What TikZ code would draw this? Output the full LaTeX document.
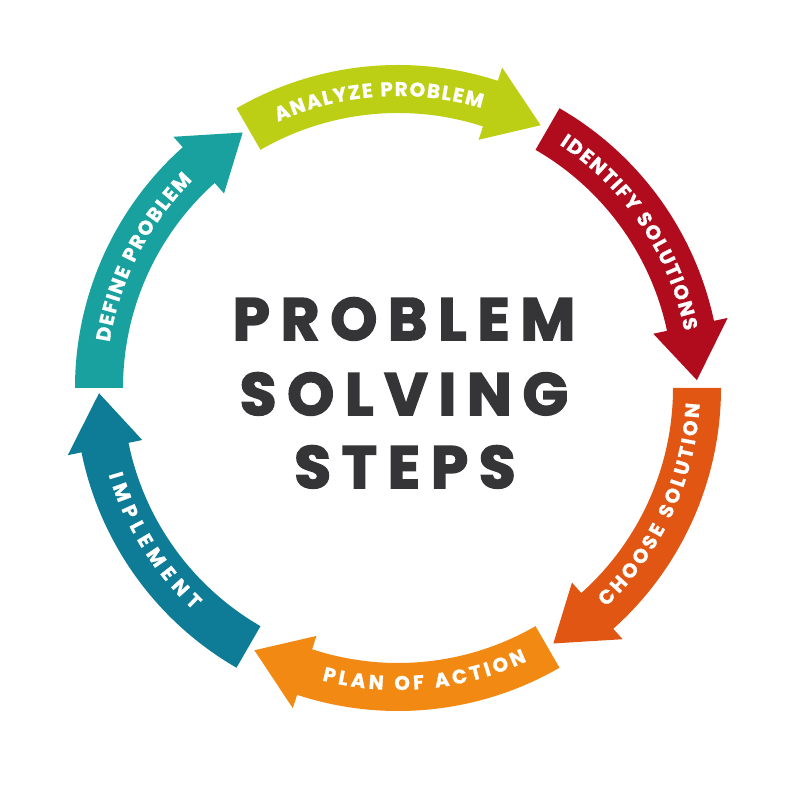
\documentclass[tikz,border=0pt]{standalone}
\usepackage{fontspec}
\usetikzlibrary{decorations.text}
\newfontfamily\titlefont{Poppins}[LetterSpace=18,BoldFeatures={FakeBold=2.6}]
\newfontfamily\lblfont{Poppins}[BoldFeatures={FakeBold=1}]
\definecolor{cdefine}{RGB}{24,161,158}
\definecolor{canalyze}{RGB}{189,207,20}
\definecolor{cidentify}{RGB}{176,12,30}
\definecolor{cchoose}{RGB}{224,86,18}
\definecolor{cplan}{RGB}{242,137,18}
\definecolor{cimplement}{RGB}{14,124,150}
\definecolor{ctitle}{RGB}{53,53,55}
\def\lblstyle#1{\lblfont\bfseries\fontsize{11.3pt}{13pt}\selectfont\kern#1}
% radii of the ring and of the heads
\def\Ro{323}
\def\Ri{275}
\def\Rm{299}
\def\Rho{337}
\def\Rhi{261}
\def\stepseg#1#2#3{%
  \fill[#3] (#1:\Ro) arc[start angle=#1, end angle=#2+10.5, radius=\Ro]
    -- ({#2+10.5}:\Rho) -- (#2:\Rm) -- ({#2+10.5}:\Rhi) -- ({#2+10.5}:\Ri)
    arc[start angle=#2+10.5, end angle=#1, radius=\Ri] -- cycle;
}
\tikzset{
  title/.style={font=\titlefont\bfseries\fontsize{34pt}{40pt}\selectfont,
    text=ctitle, anchor=base, inner sep=0pt},
  lblsp/.initial=0.9pt,
  steplbl/.style={decorate, decoration={text along path,
    text/.expanded={|\noexpand\lblstyle{\pgfkeysvalueof{/tikz/lblsp}}|#1},
    text align=center, text color=white}}
}
\begin{document}
\begin{tikzpicture}[x=0.02cm,y=0.02cm]
\useasboundingbox (-398,-412) rectangle (402,388);
%ring
\foreach \a/\b/\c in {180/121.3/cdefine,120/61.5/canalyze,60/1.5/cidentify,
  0/-58.7/cchoose,-60/-118.7/cplan,-120/-179/cimplement}
{
\stepseg{\a}{\b}{\c}
}
%labels
\foreach \m/\t in {153/DEFINE PROBLEM,94/ANALYZE PROBLEM,34/IDENTIFY SOLUTIONS}
  \path[steplbl=\t] (\m+40:292) arc[start angle=\m+40, end angle=\m-40, radius=292];
\foreach \m/\t/\k in {-25/CHOOSE SOLUTION/1.7pt,-85/PLAN OF ACTION/2pt,-148.6/IMPLEMENT/3.5pt}
  \path[lblsp=\k,steplbl=\t] (\m-40:302) arc[start angle=\m-40, end angle=\m+40, radius=302];
%title
\node[title] (ttlA) at (6,48) {PROBLEM};
\node[title] (ttlB) at (6,-27) {SOLVING};
\node[title] (ttlC) at (7,-100) {STEPS};
\end{tikzpicture}
\end{document}
